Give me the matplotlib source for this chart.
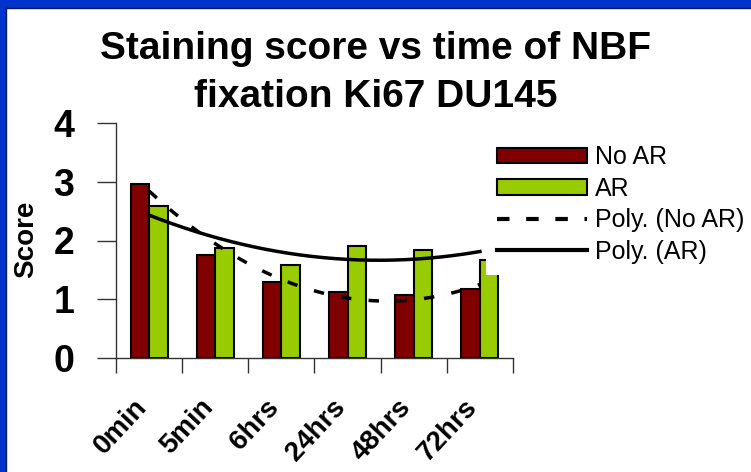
import numpy as np
import matplotlib.pyplot as plt
import matplotlib.transforms as mtransforms
from matplotlib.patches import Patch, Rectangle
from matplotlib.lines import Line2D

plt.rcParams['font.family'] = ['Liberation Sans', 'DejaVu Sans']

# data
times = ['0min', '5min', '6hrs', '24hrs', '48hrs', '72hrs']
no_ar = [2.96, 1.75, 1.30, 1.13, 1.08, 1.17]
ar = [2.58, 1.88, 1.58, 1.91, 1.84, 1.67]
yticks = [0, 1, 2, 3, 4]

c_noar = '#800000'
c_ar = '#99CC00'

W, H = 751, 472
fig = plt.figure(figsize=(W / 100, H / 100), dpi=100)
fig.patch.set_facecolor('white')

# blue slide border (top and left only)
fig.add_artist(Rectangle((0, 1 - 8 / H), 1, 8 / H, transform=fig.transFigure,
                         facecolor='#0033CC', edgecolor='none', zorder=10))
fig.add_artist(Rectangle((0, 0), 6 / W, 1, transform=fig.transFigure,
                         facecolor='#0033CC', edgecolor='none', zorder=10))
fig.add_artist(Line2D([6 / W, 1], [1 - 8 / H, 1 - 8 / H], transform=fig.transFigure,
                      color='#001a55', lw=1, zorder=11))
fig.add_artist(Line2D([6 / W, 6 / W], [0, 1 - 8 / H], transform=fig.transFigure,
                      color='#001a55', lw=1, zorder=11))

ax = fig.add_axes([116 / W, 114 / H, 397 / W, 235 / H])

x = np.arange(len(times))
w = 0.28
ax.bar(x - w / 2, no_ar, w, color=c_noar, edgecolor='black', linewidth=1.5, zorder=2)
ax.bar(x + w / 2, ar, w, color=c_ar, edgecolor='black', linewidth=1.5, zorder=2)

# polynomial (order 2) trend lines, like Excel
xs = np.linspace(0, len(times) - 1, 200)
p_noar = np.polyfit(x, no_ar, 2)
p_ar = np.polyfit(x, ar, 2)
ax.plot(xs, np.polyval(p_noar, xs), color='black', lw=2.5, linestyle=(0, (3, 5)), zorder=3)
ax.plot(xs, np.polyval(p_ar, xs), color='black', lw=2.5, zorder=3)

ax.set_xlim(-0.5, len(times) - 0.5)
ax.set_ylim(0, 4)
ax.set_yticks(yticks)
ax.set_yticklabels([str(t) for t in yticks], fontsize=27, fontweight='bold')
ax.tick_params(axis='y', length=14, width=1, pad=16, color='#333333')

ax.set_xticks(np.arange(-0.5, len(times), 1.0))
ax.set_xticklabels([])
ax.tick_params(axis='x', which='major', length=11, width=1, color='#333333')
ax.set_xticks(x, minor=True)
ax.set_xticklabels(times, minor=True, rotation=47, ha='right', va='top',
                   rotation_mode='anchor', fontsize=20, fontweight='bold')
ax.tick_params(axis='x', which='minor', length=0, pad=26)
shift = mtransforms.ScaledTranslation(-16 / 100, 0, fig.dpi_scale_trans)
for lab in ax.get_xticklabels(minor=True):
    lab.set_transform(lab.get_transform() + shift)

for s in ['top', 'right']:
    ax.spines[s].set_visible(False)
for s in ['left', 'bottom']:
    ax.spines[s].set_color('#333333')
    ax.spines[s].set_linewidth(1)

fig.text(26 / W, 1 - 239 / H, 'Score', rotation=90, ha='center', va='center',
         fontsize=20, fontweight='bold')

fig.text(0.5, 1 - 31 / H, 'Staining score vs time of NBF\nfixation Ki67 DU145',
         ha='center', va='top', fontsize=28, fontweight='bold', linespacing=1.42)

handles = [
    Patch(facecolor=c_noar, edgecolor='black', linewidth=1.5),
    Patch(facecolor=c_ar, edgecolor='black', linewidth=1.5),
    Line2D([], [], color='black', lw=3, linestyle=(0, (3, 4))),
    Line2D([], [], color='black', lw=3),
]
labels = ['No AR', 'AR', 'Poly. (No AR)', 'Poly. (AR)']
leg = fig.legend(handles, labels, loc='upper left',
                 bbox_to_anchor=(486 / W, 1 - 134 / H), borderaxespad=0,
                 fontsize=18, frameon=True, facecolor='white', edgecolor='none',
                 framealpha=1, fancybox=False, handlelength=3.6, handleheight=0.6,
                 handletextpad=0.32, labelspacing=0.3, borderpad=0.45)

fig.savefig('out.png', dpi=100, facecolor='white')
